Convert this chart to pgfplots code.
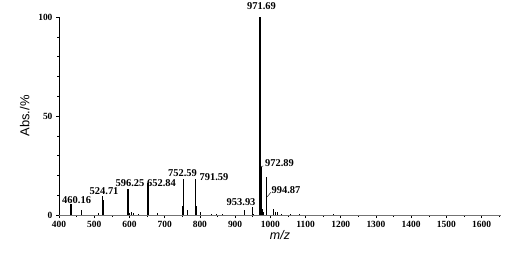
\documentclass[border=0pt]{standalone}
\usepackage{fontspec}
\setmainfont{Liberation Serif}
\newfontfamily\arial{Liberation Sans}
\usepackage{pgfplots}
\pgfplotsset{compat=1.18}
\begin{document}
\begin{tikzpicture}
\begin{axis}[
  at={(0,0)}, anchor=origin,
  scale only axis, width=442bp, height=198bp,
  xmin=400, xmax=1655, ymin=0, ymax=100,
  axis lines=left, axis line style={-, line width=0.7pt},
  x axis line style={draw=black!55},
  clip=false,
  xtick={400,500,...,1600}, minor xtick={450,550,...,1650},
  ytick={0,50,100}, minor ytick={10,20,30,40,60,70,80,90},
  tick align=outside, major tick length=3bp, minor tick length=2bp,
  tick style={black, line width=0.6pt},
  ticklabel style={font=\bfseries\fontsize{9.5}{11}\selectfont},
  /pgf/number format/assume math mode=true,
  /pgf/number format/1000 sep={},
  xlabel={\arial\itshape m/z}, ylabel={\arial Abs./\%},
  xlabel style={font=\fontsize{12.5}{14}\selectfont, yshift=4bp},
  ylabel style={font=\fontsize{13}{15}\selectfont, yshift=2bp},
]
\addplot[ycomb, mark=none, black, line width=1.1pt] coordinates {
 (434,5.5) (463,2.5) (524,9.7) (596,13) (753,18.3) (787,18.3) (927,2.5) (949,4) (990,19.3) (1010,3)
};
\addplot[ycomb, mark=none, black, line width=0.7pt] coordinates {
 (512,0.8) (526,7.8) (599,0.8) (606,1.5) (610,0.8) (626,0.7) (680,0.8) (750,4.3) (765,2.5) (790,4.5)
 (802,1.5) (832,0.7) (846,0.7) (863,0.7) (952,0.7) (976,3) (979,1.5) (1014,1.5) (1021,1.5)
 (1030,0.6) (1057,0.5) (1082,0.5) (1180,0.3)
};
\addplot[ycomb, mark=none, black, line width=1.8pt] coordinates {
 (652.5,16) (970,100) (973,24.4)
};
\begin{scope}[every node/.style={font=\bfseries\fontsize{10.5}{12}\selectfont, inner sep=0pt}]
\node at (axis cs:450,7.6) {460.16};
\node at (axis cs:528,11.9) {524.71};
\node at (axis cs:601.5,16) {596.25};
\node at (axis cs:691,16.2) {652.84};
\node at (axis cs:750.6,21.2) {752.59};
\node at (axis cs:840,19) {791.59};
\node at (axis cs:917,6.6) {953.93};
\node at (axis cs:975,105.6) {971.69};
\node at (axis cs:1026,26.1) {972.89};
\node at (axis cs:1044.5,12.6) {994.87};
\end{scope}
\draw[line width=0.4pt] (axis cs:974,24.4) -- (axis cs:980,24.8);
\draw[line width=0.4pt] (axis cs:990,9) -- (axis cs:1002,11.5);
\end{axis}
\path[use as bounding box] (-59bp,-38bp) rectangle (471bp,215bp);
\end{tikzpicture}
\end{document}
